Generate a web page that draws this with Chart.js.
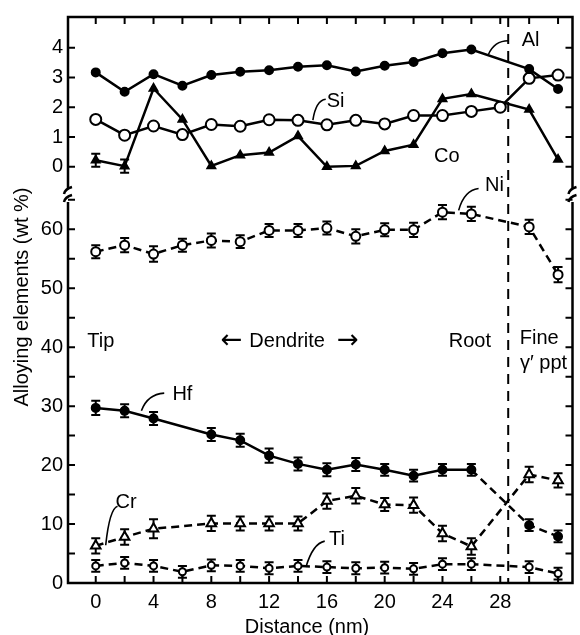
<!DOCTYPE html>
<html>
<head>
<meta charset="utf-8">
<script src="https://cdn.jsdelivr.net/npm/chart.js@4.4.1/dist/chart.umd.min.js"></script>
<style>
  html, body { margin: 0; padding: 0; background: #fff; }
  #wrap { width: 580px; height: 635px; }
</style>
</head>
<body>
<div id="wrap"><canvas id="c" width="580" height="635"></canvas></div>
<script>
// distances (nm)
const dist = [0, 2, 4, 6, 8, 10, 12, 14, 16, 18, 20, 22, 24, 26, 30, 32];
const distSi = [0, 2, 4, 6, 8, 10, 12, 14, 16, 18, 20, 22, 24, 26, 28, 30, 32];
const distHfCr = [0, 2, 4, 8, 10, 12, 14, 16, 18, 20, 22, 24, 26, 30, 32];

// upper panel (wt %)
const al = [3.17, 2.52, 3.11, 2.72, 3.08, 3.19, 3.24, 3.36, 3.41, 3.20, 3.39, 3.52, 3.81, 3.94, 3.28, 2.61];
const si = [1.59, 1.06, 1.37, 1.08, 1.42, 1.36, 1.58, 1.56, 1.41, 1.56, 1.44, 1.72, 1.72, 1.86, 2.00, 2.97, 3.08];
const co = [0.22, 0.02, 2.63, 1.59, 0.03, 0.39, 0.48, 1.03, 0.00, 0.03, 0.53, 0.74, 2.28, 2.44, 1.92, 0.24];
const coErr = [0.22, 0.22, 0, 0, 0, 0, 0, 0, 0, 0, 0, 0, 0, 0, 0, 0];

// lower panel (wt %)
const ni = [56.2, 57.3, 55.8, 57.3, 58.1, 57.9, 59.8, 59.8, 60.2, 58.8, 59.9, 59.9, 62.9, 62.6, 60.4, 52.3];
const niErr = [1.1, 1.2, 1.3, 1.1, 1.2, 1.1, 1.1, 1.1, 1.1, 1.2, 1.1, 1.2, 1.2, 1.2, 1.2, 1.3];
const hf = [29.7, 29.2, 27.9, 25.2, 24.2, 21.6, 20.2, 19.2, 20.1, 19.2, 18.2, 19.2, 19.2, 9.8, 7.9];
const hfErr = [1.2, 1.1, 1.1, 1.1, 1.1, 1.2, 1.1, 1.1, 1.1, 1.0, 1.0, 1.0, 1.0, 1.0, 1.0];
const cr = [6.3, 7.8, 9.2, 10.1, 10.1, 10.1, 10.1, 13.9, 14.8, 13.3, 13.2, 8.4, 6.2, 18.4, 17.4];
const crErr = [1.3, 1.3, 1.6, 1.3, 1.2, 1.2, 1.2, 1.3, 1.3, 1.1, 1.3, 1.3, 1.4, 1.3, 1.2];
const ti = [2.9, 3.4, 2.9, 1.9, 3.0, 2.9, 2.5, 2.9, 2.7, 2.5, 2.6, 2.4, 3.2, 3.2, 2.7, 1.6];
const tiErr = [1.0, 1.0, 1.0, 1.0, 1.0, 1.0, 1.0, 1.0, 1.0, 1.0, 1.0, 1.0, 1.0, 1.0, 1.0, 1.0];

// tick labels
const xTicks = [0, 4, 8, 12, 16, 20, 24, 28];
const yLowTicks = [0, 10, 20, 30, 40, 50, 60];
const yUpTicks = [0, 1, 2, 3, 4];
const boundaryX = 28.55;

const FONT = '"Liberation Sans", Arial, Helvetica, sans-serif';
const pts = (xs, ys) => xs.map((x, i) => ({ x: x, y: ys[i] }));

function series(label, xs, ys, axis, style) {
  return Object.assign({
    label: label, data: pts(xs, ys), yAxisID: axis, showLine: true,
    borderColor: '#000', borderWidth: 2.5, pointBorderColor: '#000',
    pointBorderWidth: 2, tension: 0
  }, style);
}
const open = { pointBackgroundColor: '#fff', backgroundColor: '#fff' };
const filled = { pointBackgroundColor: '#000', backgroundColor: '#000' };
const dash = [8, 5];

const datasets = [
  series('Al', dist, al, 'yUp', Object.assign({ pointStyle: 'circle', pointRadius: 4 }, filled)),
  series('Si', distSi, si, 'yUp', Object.assign({ pointStyle: 'circle', pointRadius: 5.5 }, open)),
  series('Co', dist, co, 'yUp', Object.assign({ pointStyle: 'triangle', pointRadius: 4.5, errors: coErr }, filled)),
  series('Ni', dist, ni, 'yLow', Object.assign({ pointStyle: 'circle', pointRadius: 4.5, borderDash: dash, errors: niErr }, open)),
  series('Hf', distHfCr, hf, 'yLow', Object.assign({ pointStyle: 'circle', pointRadius: 4, errors: hfErr,
    segment: { borderDash: ctx => ctx.p0DataIndex >= 12 ? dash : undefined } }, filled)),
  series('Cr', distHfCr, cr, 'yLow', Object.assign({ pointStyle: 'triangle', pointRadius: 5.5, borderDash: dash, errors: crErr }, open)),
  series('Ti', dist, ti, 'yLow', Object.assign({ pointStyle: 'circle', pointRadius: 3.5, borderDash: dash, errors: tiErr }, open))
];

// text labels: [text, x(nm), value, axis]
const notes = [
  ['Al', 30.1, 4.23, 'yUp'],
  ['Si', 16.6, 2.2, 'yUp'],
  ['Co', 24.3, 0.33, 'yUp'],
  ['Ni', 27.6, -0.63, 'yUp'],
  ['Tip', 0.35, 41.0, 'yLow'],
  ['Dendrite', 13.25, 41.0, 'yLow'],
  ['Root', 25.9, 41.0, 'yLow'],
  ['Fine', 30.7, 41.4, 'yLow'],
  ['\u03b3\u2032 ppt', 31.0, 37.2, 'yLow'],
  ['Hf', 6.0, 32.0, 'yLow'],
  ['Cr', 2.1, 13.7, 'yLow'],
  ['Ti', 16.7, 7.3, 'yLow']
];
// arrows beside "Dendrite": [glyph, x(nm), value]
const arrows = [['\u2190', 9.4, 41.0], ['\u2192', 17.45, 41.0]];
// leader curves: start, control, end in (nm, value)
const leaders = [
  ['yUp', [27.18, 3.77], [27.6, 4.23], [28.55, 4.23]],
  ['yUp', [15.03, 1.57], [15.24, 2.23], [15.92, 2.27]],
  ['yLow', [25.12, 63.2], [25.5, 66.6], [26.5, 66.9]],
  ['yLow', [3.16, 29.2], [3.57, 32.0], [4.74, 32.2]],
  ['yLow', [0.69, 6.4], [0.96, 12.6], [1.51, 13.0]],
  ['yLow', [14.55, 2.7], [15.03, 6.7], [15.85, 7.1]]
];

const errorBars = {
  id: 'errorBars',
  beforeDatasetsDraw(chart) {
    const ctx = chart.ctx;
    ctx.save();
    ctx.strokeStyle = '#000';
    ctx.lineWidth = 2;
    chart.data.datasets.forEach((ds, i) => {
      if (!ds.errors) return;
      const meta = chart.getDatasetMeta(i);
      const ys = chart.scales[ds.yAxisID];
      meta.data.forEach((p, j) => {
        const e = ds.errors[j];
        if (!e) return;
        const v = ds.data[j].y;
        const t = ys.getPixelForValue(v + e), b = ys.getPixelForValue(v - e);
        ctx.beginPath();
        ctx.moveTo(p.x, t); ctx.lineTo(p.x, b);
        ctx.moveTo(p.x - 4.5, t); ctx.lineTo(p.x + 4.5, t);
        ctx.moveTo(p.x - 4.5, b); ctx.lineTo(p.x + 4.5, b);
        ctx.stroke();
      });
    });
    ctx.restore();
  }
};

const frame = {
  id: 'frame',
  afterDatasetsDraw(chart) {
    const ctx = chart.ctx;
    const a = chart.chartArea;
    const xs = chart.scales.x, lo = chart.scales.yLow, up = chart.scales.yUp;
    const yb = lo.top;
    ctx.save();
    ctx.strokeStyle = '#000';
    ctx.fillStyle = '#000';

    // boundary dashed line
    ctx.lineWidth = 2;
    ctx.setLineDash([10, 7]);
    const bx = xs.getPixelForValue(boundaryX);
    ctx.beginPath(); ctx.moveTo(bx, a.top); ctx.lineTo(bx, a.bottom); ctx.stroke();
    ctx.setLineDash([]);

    // frame with breaks
    ctx.lineWidth = 2.5;
    ctx.beginPath();
    ctx.moveTo(a.left, yb - 6); ctx.lineTo(a.left, a.top); ctx.lineTo(a.right, a.top); ctx.lineTo(a.right, yb - 6);
    ctx.moveTo(a.left, yb + 7); ctx.lineTo(a.left, a.bottom); ctx.lineTo(a.right, a.bottom); ctx.lineTo(a.right, yb + 7);
    ctx.stroke();
    [a.left, a.right].forEach(x => {
      ctx.beginPath();
      ctx.moveTo(x - 4, yb - 1); ctx.quadraticCurveTo(x - 3, yb - 6, x + 4, yb - 8);
      ctx.moveTo(x - 4, yb + 7); ctx.quadraticCurveTo(x - 3, yb + 2, x + 4, yb);
      ctx.stroke();
    });

    // inward ticks
    ctx.lineWidth = 2;
    ctx.beginPath();
    for (let v = 0; v <= 32; v += 2) {
      const x = xs.getPixelForValue(v);
      ctx.moveTo(x, a.bottom); ctx.lineTo(x, a.bottom - 7);
      ctx.moveTo(x, a.top); ctx.lineTo(x, a.top + 7);
    }
    for (let v = 0; v <= 65; v += 5) {
      const y = lo.getPixelForValue(v);
      ctx.moveTo(a.left, y); ctx.lineTo(a.left + 7, y);
      ctx.moveTo(a.right, y); ctx.lineTo(a.right - 7, y);
    }
    for (let v = 0; v <= 4; v += 1) {
      const y = up.getPixelForValue(v);
      ctx.moveTo(a.left, y); ctx.lineTo(a.left + 7, y);
      ctx.moveTo(a.right, y); ctx.lineTo(a.right - 7, y);
    }
    ctx.stroke();

    // leaders
    ctx.lineWidth = 1.6;
    leaders.forEach(l => {
      const s = chart.scales[l[0]];
      ctx.beginPath();
      ctx.moveTo(xs.getPixelForValue(l[1][0]), s.getPixelForValue(l[1][1]));
      ctx.quadraticCurveTo(xs.getPixelForValue(l[2][0]), s.getPixelForValue(l[2][1]),
        xs.getPixelForValue(l[3][0]), s.getPixelForValue(l[3][1]));
      ctx.stroke();
    });

    // labels
    ctx.font = '20px ' + FONT;
    ctx.textBaseline = 'middle';
    ctx.textAlign = 'center';
    notes.forEach(n => {
      const s = chart.scales[n[3]];
      ctx.fillText(n[0], xs.getPixelForValue(n[1]), s.getPixelForValue(n[2]));
    });
    ctx.font = '26px "DejaVu Sans", sans-serif';
    arrows.forEach(n => {
      ctx.fillText(n[0], xs.getPixelForValue(n[1]), lo.getPixelForValue(n[2]));
    });

    // axis titles
    ctx.font = '20px ' + FONT;
    ctx.fillText('Distance (nm)', 307, 627);
    ctx.translate(22, 297);
    ctx.rotate(-Math.PI / 2);
    ctx.fillText('Alloying elements (wt %)', 0, 0);
    ctx.restore();
  }
};

const tickFont = { family: FONT, size: 20 };
const yAxis = (ticks, min, max, weight) => ({
  type: 'linear', position: 'left', stack: 'y', stackWeight: weight, min: min, max: max,
  grid: { display: false, drawTicks: false }, border: { display: false },
  ticks: { font: tickFont, color: '#000', padding: 5, autoSkip: false },
  afterBuildTicks: s => { s.ticks = ticks.map(v => ({ value: v })); },
  afterFit: s => { s.width = 68; }
});

new Chart(document.getElementById('c'), {
  type: 'scatter',
  data: { datasets: datasets },
  plugins: [errorBars, frame],
  options: {
    responsive: false,
    animation: false,
    layout: { padding: { top: 14, right: 3, left: 0, bottom: 0 } },
    plugins: { legend: { display: false }, tooltip: { enabled: false } },
    scales: {
      x: {
        type: 'linear', min: -1.92, max: 33.0,
        grid: { display: false, drawTicks: false }, border: { display: false },
        ticks: { font: tickFont, color: '#000', padding: 7, autoSkip: false, maxRotation: 0 },
        afterBuildTicks: s => { s.ticks = xTicks.map(v => ({ value: v })); },
        afterFit: s => { s.height = 52; }
      },
      yLow: yAxis(yLowTicks, 0, 65.8, 390),
      yUp: yAxis(yUpTicks, -0.95, 5.03, 179)
    }
  }
});
</script>
</body>
</html>
